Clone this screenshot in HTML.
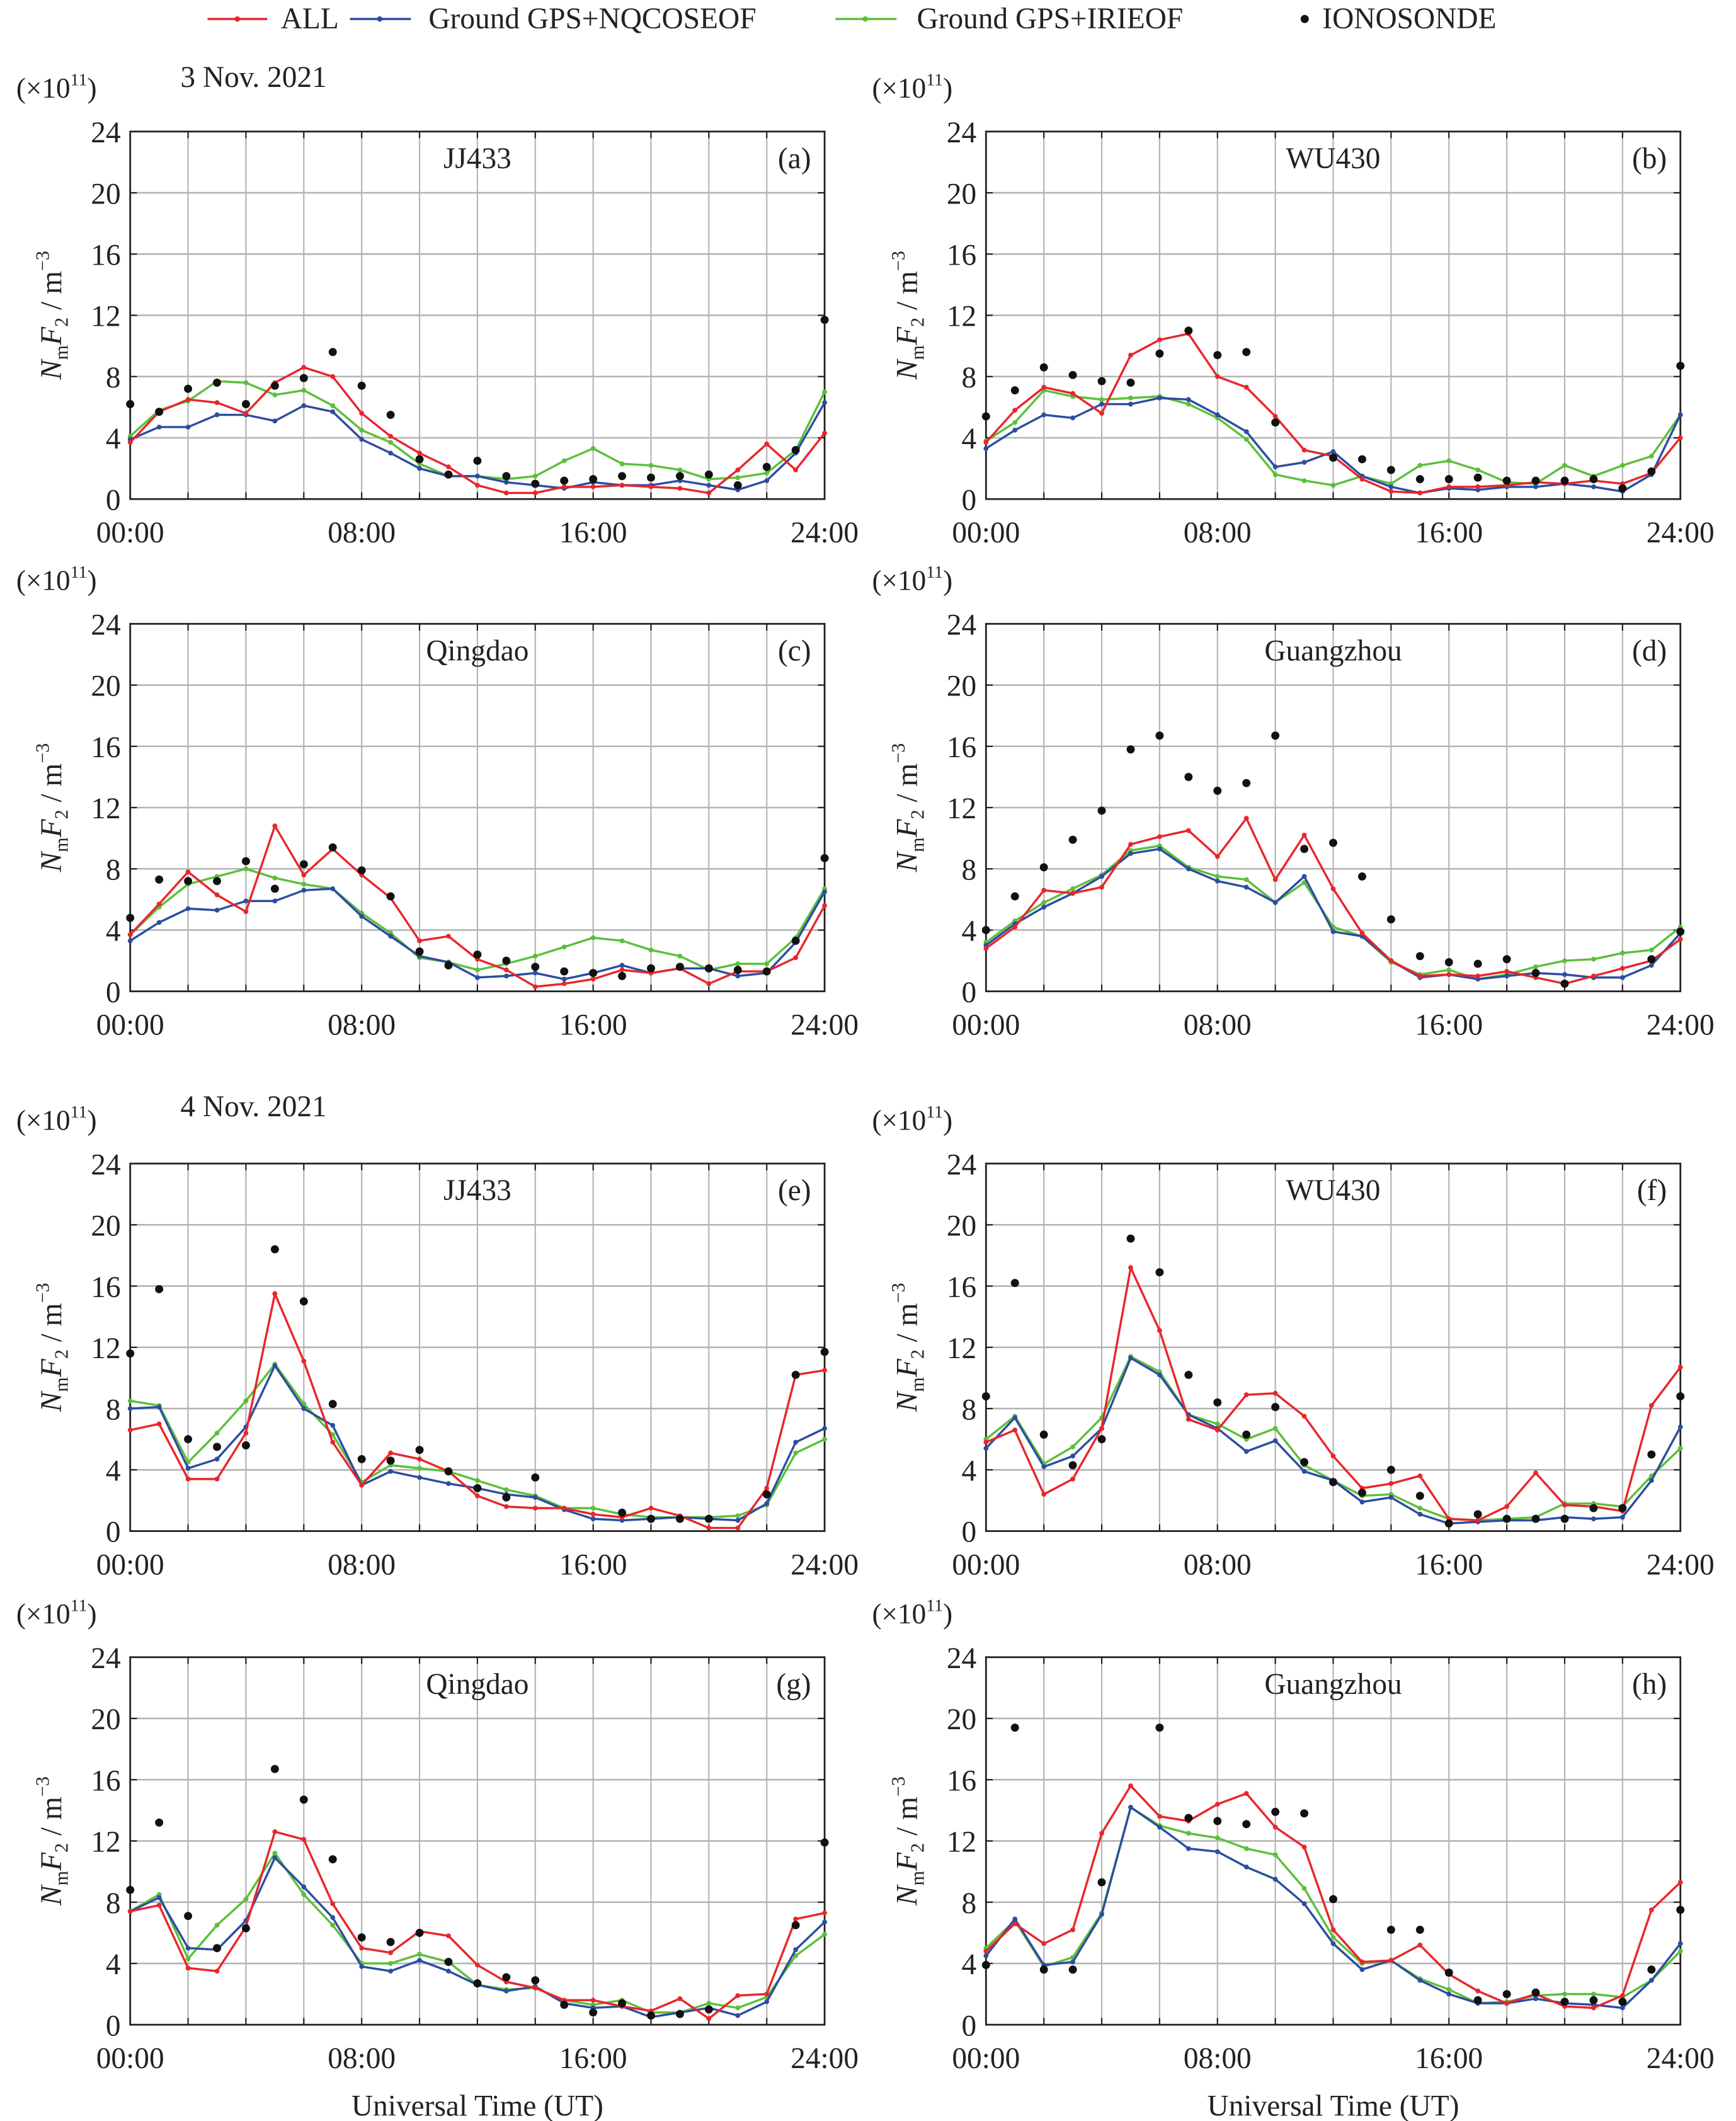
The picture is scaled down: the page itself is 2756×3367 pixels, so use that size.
<!DOCTYPE html>
<html><head><meta charset="utf-8"><style>
html,body{margin:0;padding:0;background:#fff}
svg{display:block}
text{font-family:"Liberation Serif",serif;fill:#222}
</style></head><body>
<svg id="s" width="2756" height="3367" viewBox="0 0 1280 1564" preserveAspectRatio="none" xmlns="http://www.w3.org/2000/svg">
<g font-size="22">
<line x1="153" y1="14" x2="197" y2="14" stroke="#e8262b" stroke-width="1.6"/><circle cx="175" cy="14" r="2" fill="#e8262b"/><text x="207" y="21">ALL</text>
<line x1="258" y1="14" x2="303" y2="14" stroke="#2c4da0" stroke-width="1.6"/><circle cx="280" cy="14" r="2" fill="#2c4da0"/><text x="316" y="21">Ground GPS+NQCOSEOF</text>
<line x1="616" y1="14" x2="661" y2="14" stroke="#5cbf3a" stroke-width="1.6"/><circle cx="638" cy="14" r="2" fill="#5cbf3a"/><text x="676" y="21">Ground GPS+IRIEOF</text>
<circle cx="962" cy="14" r="3" fill="#111"/><text x="975" y="21">IONOSONDE</text>
<text x="133" y="64">3 Nov. 2021</text>
<text x="133" y="823">4 Nov. 2021</text>
<text x="352" y="1560" text-anchor="middle">Universal Time (UT)</text>
<text x="983" y="1560" text-anchor="middle">Universal Time (UT)</text>
</g>
</svg>
<script>
const N=null;
const P=[
{c:0,r:0,name:"JJ433",lab:"(a)",
A:[3.7,5.7,6.5,6.3,5.6,7.6,8.6,8.0,5.6,4.1,3.0,2.1,0.9,0.4,0.4,0.8,0.8,0.9,0.8,0.7,0.4,1.9,3.6,1.9,4.3],
B:[3.9,4.7,4.7,5.5,5.5,5.1,6.1,5.7,3.9,3.0,2.0,1.5,1.5,1.1,0.9,0.7,1.1,0.9,0.9,1.2,0.9,0.6,1.2,3.0,6.3],
G:[4.1,5.8,6.4,7.7,7.6,6.8,7.1,6.1,4.5,3.7,2.3,1.5,1.5,1.3,1.5,2.5,3.3,2.3,2.2,1.9,1.3,1.4,1.7,3.2,7.0],
I:[6.2,5.7,7.2,7.6,6.2,7.4,7.9,9.6,7.4,5.5,2.6,1.6,2.5,1.5,1.0,1.2,1.3,1.5,1.4,1.5,1.6,0.9,2.1,3.2,11.7]},
{c:1,r:0,name:"WU430",lab:"(b)",
A:[3.7,5.8,7.3,6.9,5.6,9.4,10.4,10.8,8.0,7.3,5.4,3.2,2.8,1.3,0.5,0.4,0.8,0.8,0.9,1.1,1.0,1.2,1.0,1.7,4.0],
B:[3.3,4.5,5.5,5.3,6.2,6.2,6.6,6.5,5.5,4.4,2.1,2.4,3.1,1.5,0.8,0.4,0.7,0.6,0.8,0.8,1.0,0.8,0.5,1.6,5.5],
G:[3.8,5.0,7.1,6.7,6.5,6.6,6.7,6.2,5.3,3.9,1.6,1.2,0.9,1.5,1.0,2.2,2.5,1.9,1.1,1.0,2.2,1.5,2.2,2.8,5.5],
I:[5.4,7.1,8.6,8.1,7.7,7.6,9.5,11.0,9.4,9.6,5.0,N,2.7,2.6,1.9,1.3,1.3,1.4,1.2,1.2,1.2,1.3,0.7,1.8,8.7]},
{c:0,r:1,name:"Qingdao",lab:"(c)",
A:[3.7,5.7,7.8,6.3,5.2,10.8,7.6,9.3,7.6,6.1,3.3,3.6,2.1,1.4,0.3,0.5,0.8,1.4,1.2,1.5,0.5,1.3,1.3,2.2,5.6],
B:[3.3,4.5,5.4,5.3,5.9,5.9,6.6,6.7,4.9,3.6,2.3,1.9,0.9,1.0,1.2,0.8,1.2,1.7,1.2,1.5,1.5,1.0,1.2,3.2,6.5],
G:[3.7,5.5,7.0,7.5,8.0,7.4,7.0,6.7,5.1,3.8,2.2,1.9,1.4,1.8,2.3,2.9,3.5,3.3,2.7,2.3,1.4,1.8,1.8,3.5,6.7],
I:[4.8,7.3,7.2,7.2,8.5,6.7,8.3,9.4,7.9,6.2,2.6,1.7,2.4,2.0,1.6,1.3,1.2,1.0,1.5,1.6,1.5,1.4,1.3,3.3,8.7]},
{c:1,r:1,name:"Guangzhou",lab:"(d)",
A:[2.8,4.2,6.6,6.4,6.8,9.6,10.1,10.5,8.8,11.3,7.3,10.2,6.7,3.8,2.0,1.0,1.1,1.0,1.3,0.9,0.5,1.0,1.5,2.0,3.4],
B:[3.0,4.4,5.5,6.4,7.5,9.0,9.3,8.0,7.2,6.8,5.8,7.5,3.9,3.6,2.0,0.9,1.1,0.8,1.0,1.2,1.1,0.9,0.9,1.7,3.8],
G:[3.2,4.6,5.8,6.7,7.6,9.2,9.5,8.1,7.5,7.3,5.8,7.1,4.2,3.6,1.9,1.1,1.4,0.8,1.1,1.6,2.0,2.1,2.5,2.7,4.2],
I:[4.0,6.2,8.1,9.9,11.8,15.8,16.7,14.0,13.1,13.6,16.7,9.3,9.7,7.5,4.7,2.3,1.9,1.8,2.1,1.2,0.5,N,N,2.1,3.9]},
{c:0,r:2,name:"JJ433",lab:"(e)",
A:[6.6,7.0,3.4,3.4,6.4,15.5,11.1,5.8,3.0,5.1,4.7,3.9,2.3,1.6,1.5,1.5,1.1,0.9,1.5,1.0,0.2,0.2,2.8,10.2,10.5],
B:[8.0,8.1,4.1,4.7,6.8,10.8,8.0,6.9,3.0,3.9,3.5,3.1,2.8,2.4,2.2,1.4,0.8,0.7,0.8,0.9,0.8,0.7,1.8,5.8,6.7],
G:[8.5,8.2,4.5,6.4,8.5,10.9,8.3,6.3,3.2,4.3,4.1,3.9,3.3,2.7,2.3,1.5,1.5,1.1,0.9,0.9,0.9,1.0,1.7,5.1,6.0],
I:[11.6,15.8,6.0,5.5,5.6,18.4,15.0,8.3,4.7,4.6,5.3,3.9,2.8,2.2,3.5,N,N,1.2,0.8,0.8,0.8,N,2.4,10.2,11.7]},
{c:1,r:2,name:"WU430",lab:"(f)",
A:[5.8,6.6,2.4,3.4,6.7,17.2,13.1,7.3,6.6,8.9,9.0,7.5,4.9,2.8,3.1,3.6,0.8,0.7,1.6,3.8,1.7,1.6,1.3,8.2,10.7],
B:[5.4,7.4,4.2,4.9,6.7,11.3,10.2,7.6,6.7,5.2,5.9,3.9,3.3,1.9,2.2,1.1,0.5,0.6,0.7,0.7,0.9,0.8,0.9,3.3,6.8],
G:[6.0,7.5,4.4,5.5,7.4,11.4,10.4,7.6,7.0,6.0,6.7,4.3,3.3,2.3,2.4,1.5,0.8,0.7,0.8,0.9,1.8,1.8,1.6,3.6,5.4],
I:[8.8,16.2,6.3,4.3,6.0,19.1,16.9,10.2,8.4,6.3,8.1,4.5,3.2,2.5,4.0,2.3,0.5,1.1,0.8,0.8,0.8,1.5,1.5,5.0,8.8]},
{c:0,r:3,name:"Qingdao",lab:"(g)",
A:[7.4,7.8,3.7,3.5,6.4,12.6,12.1,7.9,5.0,4.7,6.1,5.8,3.9,2.8,2.4,1.6,1.6,1.2,0.9,1.7,0.4,1.9,2.0,6.9,7.3],
B:[7.4,8.3,5.0,4.9,6.8,10.9,9.0,7.0,3.8,3.5,4.2,3.5,2.6,2.2,2.5,1.4,1.1,1.2,0.5,0.8,1.1,0.6,1.5,4.9,6.7],
G:[7.4,8.5,4.3,6.5,8.2,11.2,8.5,6.5,4.0,4.0,4.6,4.1,2.6,2.3,2.4,1.6,1.3,1.6,0.8,0.8,1.4,1.1,1.8,4.5,5.9],
I:[8.8,13.2,7.1,5.0,6.3,16.7,14.7,10.8,5.7,5.4,6.0,4.1,2.7,3.1,2.9,1.3,0.8,1.4,0.6,0.7,1.0,N,N,6.5,11.9]},
{c:1,r:3,name:"Guangzhou",lab:"(h)",
A:[4.8,6.6,5.3,6.2,12.5,15.6,13.6,13.3,14.4,15.1,12.9,11.6,6.2,4.1,4.2,5.2,3.3,2.2,1.4,2.0,1.2,1.1,1.9,7.5,9.3],
B:[4.5,6.9,3.9,4.1,7.2,14.2,12.9,11.5,11.3,10.3,9.5,7.9,5.3,3.6,4.2,2.9,2.0,1.4,1.4,1.7,1.4,1.3,1.1,2.9,5.3],
G:[5.0,6.8,3.8,4.4,7.3,14.2,13.0,12.5,12.2,11.5,11.1,8.9,5.7,4.0,4.2,3.0,2.3,1.4,1.5,1.9,2.0,2.0,1.8,2.9,4.8],
I:[3.9,19.4,3.6,3.6,9.3,N,19.4,13.5,13.3,13.1,13.9,13.8,8.2,N,6.2,6.2,3.4,1.6,2.0,2.1,1.5,1.6,1.5,3.6,7.5]}
];
const LX=[96,727],W=512,TY=[97,460,858,1222],H=271;
let s="";
for(const p of P){
 const x0=LX[p.c],y0=TY[p.r];
 const X=h=>x0+h*W/24,Y=v=>y0+H-v*H/24;
 for(let h=2;h<24;h+=2)s+=`<line x1="${X(h)}" y1="${y0}" x2="${X(h)}" y2="${y0+H}" stroke="#b4b4b4" stroke-width="1"/>`;
 for(let v=4;v<24;v+=4)s+=`<line x1="${x0}" y1="${Y(v)}" x2="${x0+W}" y2="${Y(v)}" stroke="#b4b4b4" stroke-width="1.2"/>`;
 for(let h=2;h<24;h+=2){s+=`<line x1="${X(h)}" y1="${y0}" x2="${X(h)}" y2="${y0+5}" stroke="#222"/><line x1="${X(h)}" y1="${y0+H}" x2="${X(h)}" y2="${y0+H-5}" stroke="#222"/>`;}
 for(let v=4;v<24;v+=4){s+=`<line x1="${x0}" y1="${Y(v)}" x2="${x0+5}" y2="${Y(v)}" stroke="#222"/><line x1="${x0+W}" y1="${Y(v)}" x2="${x0+W-5}" y2="${Y(v)}" stroke="#222"/>`;}
 s+=`<rect x="${x0}" y="${y0}" width="${W}" height="${H}" fill="none" stroke="#222" stroke-width="1.3"/>`;
 for(let v=0;v<=24;v+=4)s+=`<text x="${x0-7}" y="${Y(v)+8}" font-size="22" text-anchor="end">${v}</text>`;
 ["00:00","08:00","16:00","24:00"].forEach((t,i)=>s+=`<text x="${X(i*8)}" y="${y0+H+32}" font-size="22" text-anchor="middle">${t}</text>`);
 s+=`<text x="${x0-84}" y="${y0-25}" font-size="21">(×10<tspan font-size="13" dy="-9">11</tspan><tspan dy="9">)</tspan></text>`;
 const cy=y0+H/2;
 s+=`<text transform="translate(${x0-51},${cy}) rotate(-90)" font-size="22" text-anchor="middle"><tspan font-style="italic">N</tspan><tspan font-size="14" dy="5">m</tspan><tspan font-style="italic" dy="-5">F</tspan><tspan font-size="14" dy="5">2</tspan><tspan dy="-5"> / m</tspan><tspan font-size="14" dy="-9">−3</tspan></text>`;
 s+=`<text x="${X(12)}" y="${y0+27}" font-size="22" text-anchor="middle">${p.name}</text>`;
 s+=`<text x="${x0+W-10}" y="${y0+27}" font-size="22" text-anchor="end">${p.lab}</text>`;
 [["G","#5cbf3a"],["B","#2c4da0"],["A","#e8262b"]].forEach(([k,c])=>{
  const pts=p[k].map((v,h)=>X(h).toFixed(1)+","+Y(v).toFixed(1)).join(" ");
  s+=`<polyline points="${pts}" fill="none" stroke="${c}" stroke-width="1.6"/>`;
  p[k].forEach((v,h)=>s+=`<circle cx="${X(h)}" cy="${Y(v)}" r="1.8" fill="${c}"/>`);
 });
 p.I.forEach((v,h)=>{if(v!==null)s+=`<circle cx="${X(h)}" cy="${Y(v)}" r="3" fill="#111"/>`;});
}
document.getElementById("s").insertAdjacentHTML("beforeend",s);
</script>
</body></html>
